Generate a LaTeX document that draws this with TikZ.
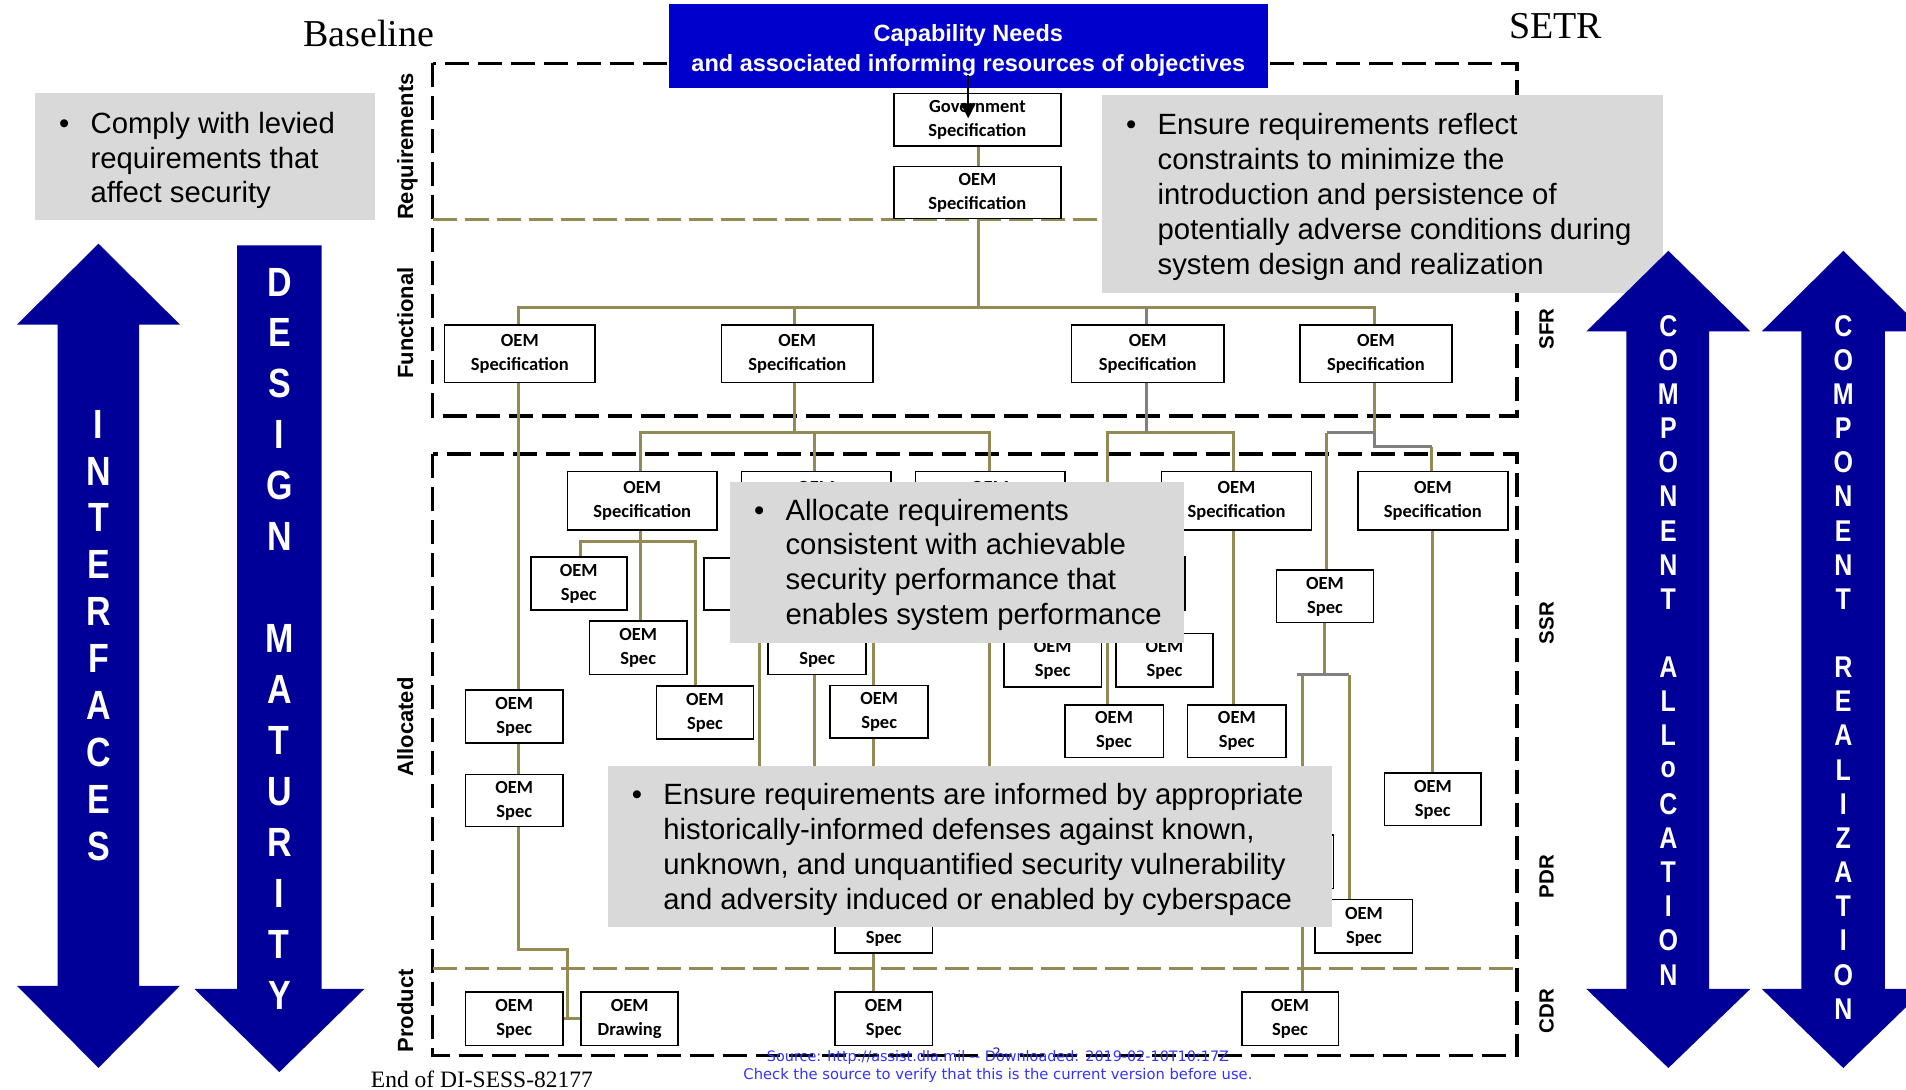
\documentclass[tikz,border=0pt]{standalone}
\usepackage{graphicx}
\usepackage{fontspec}
\setmainfont{Liberation Serif}
\setsansfont{Liberation Sans}
\newfontfamily\specfont{Carlito}
\newfontfamily\notefont{DejaVu Sans}
\usetikzlibrary{fit,arrows.meta}
\definecolor{navy}{RGB}{0,0,153}
\definecolor{capblue}{RGB}{0,0,204}
\definecolor{calloutgray}{RGB}{217,217,217}
\definecolor{olivegold}{RGB}{148,138,84}
\definecolor{linkgray}{RGB}{128,128,128}
\definecolor{noteblue}{RGB}{51,51,255}
\newcommand\bulletrows[1]{\begin{tabular}[t]{@{}p{31.5pt}@{}l@{}}#1\end{tabular}}
\newcommand\twoline[2]{\begin{tabular}{@{}c@{}}#1\\#2\end{tabular}}
\begin{document}
\begin{tikzpicture}[x=1.2156pt, y=-1.2156pt,
  specbox/.style={inner sep=0pt, outer sep=0pt},
  specframe/.style={draw=black, line width=1.6pt, fill=white},
  spectext/.style={inner sep=0pt, font=\specfont\bfseries\fontsize{18.5}{24}\selectfont},
  olink/.style={draw=olivegold, line width=3pt},
  graylink/.style={draw=linkgray, line width=3pt},
  stageframe/.style={draw=black, line width=3.2pt, dash pattern=on 24pt off 9pt},
  stageline/.style={draw=olivegold, line width=3.3pt, dash pattern=on 24pt off 8pt},
  callout/.style={fill=calloutgray, inner sep=0pt, outer sep=0pt},
  callouttext/.style={anchor=base west, inner sep=0pt, font=\sffamily\fontsize{29.3}{34.8}\selectfont},
  bandchar/.style={text=white, inner sep=0pt, font=\sffamily\bfseries\fontsize{34}{34}\selectfont},
  slimchar/.style={text=white, inner sep=0pt, font=\sffamily\bfseries\fontsize{25}{25}\selectfont},
  phaselabel/.style={rotate=90, anchor=base, inner sep=0pt, font=\sffamily\bfseries\fontsize{22}{22}\selectfont},
  reviewlabel/.style={rotate=90, anchor=base, inner sep=0pt, font=\sffamily\bfseries\fontsize{20.5}{20.5}\selectfont}]
\useasboundingbox (0,0) rectangle (1568,896);

% ---------- baseline frames ----------
\draw[stageframe] (356,52) rectangle (1248,342.3);
\draw[stageframe] (356,373.5) rectangle (1248,868);
\draw[stageline] (356,180.4) -- (1248,180.4);
\draw[stageline] (356,797) -- (1248,797);

% ---------- routing lines and junction rows ----------
\coordinate (busF) at (0,253);
\coordinate (busA) at (0,356);
\coordinate (busAlow) at (0,367.5);
\coordinate (busB) at (0,445.6);
\coordinate (busC) at (0,555);
\coordinate (hidden) at (0,700);
\coordinate (xtop) at (804.6,0);
\coordinate (xF1) at (426.4,0);
\coordinate (xF2) at (653.7,0);
\coordinate (xF3) at (943,0);
\coordinate (xF4) at (1130.6,0);
\coordinate (xA1) at (526.5,0);
\coordinate (xA2) at (670,0);
\coordinate (xA3) at (813.7,0);
\coordinate (xA4) at (1015,0);
\coordinate (xA5) at (1178,0);
\coordinate (xA1a) at (477.7,0);
\coordinate (xA1c) at (572,0);
\coordinate (xA2a) at (625,0);
\coordinate (xA2c) at (719,0);
\coordinate (xA3a) at (935,0);
\coordinate (xA3b) at (866,0);
\coordinate (xA3c) at (958,0);
\coordinate (xB) at (911.5,0);
\coordinate (xC) at (1091.5,0);
\coordinate (xCd) at (1071.5,0);
\coordinate (xCl) at (1067,0);
\coordinate (xD) at (1110,0);
\coordinate (lbend) at (467,781.5);

% ---------- box areas ----------
\node[specbox, fit={(735.5,76.8)(872.6,120)}] (gov) {};
\node[specbox, fit={(735.5,137)(872.6,179.6)}] (oemtop) {};
\node[specbox, fit={(365.8,267.4)(489.5,314.8)}] (f1) {};
\node[specbox, fit={(593.5,267.4)(718.3,314.8)}] (f2) {};
\node[specbox, fit={(881.4,267.4)(1007,314.8)}] (f3) {};
\node[specbox, fit={(1069.5,267.4)(1194.3,314.8)}] (f4) {};
\node[specbox, fit={(466.7,388)(590,436)}] (a1) {};
\node[specbox, fit={(610,388)(733,436)}] (a2) {};
\node[specbox, fit={(753,388)(876,436)}] (a3) {};
\node[specbox, fit={(955.5,388)(1079,436)}] (a4) {};
\node[specbox, fit={(1117,388)(1240.5,436)}] (a5) {};
\node[specbox, fit={(436.6,458)(515.6,502)}] (a1a) {};
\node[specbox, fit={(485,511)(565,555)}] (a1b) {};
\node[specbox, fit={(540,564.5)(620,608)}] (a1c) {};
\node[specbox, fit={(579,459)(659,502)}] (a2a) {};
\node[specbox, fit={(632,511)(712.5,555)}] (a2b) {};
\node[specbox, fit={(683,564)(763.5,607)}] (a2c) {};
\node[specbox, fit={(895,458)(975,502)}] (a3a) {};
\node[specbox, fit={(826,521)(906,565)}] (a3b) {};
\node[specbox, fit={(918,521)(998,565)}] (a3c) {};
\node[specbox, fit={(876,580)(957,623)}] (bx) {};
\node[specbox, fit={(977,580)(1058,623)}] (ex) {};
\node[specbox, fit={(1050,469)(1130,512)}] (cx) {};
\node[specbox, fit={(1139,636)(1218.5,679)}] (rx) {};
\node[specbox, fit={(1017,687)(1097,731)}] (xx) {};
\node[specbox, fit={(1082,740)(1162,784)}] (dx) {};
\node[specbox, fit={(383,567.6)(463,611)}] (l1) {};
\node[specbox, fit={(383,637)(463,680)}] (l2) {};
\node[specbox, fit={(687,740)(767,784)}] (mx) {};
\node[specbox, fit={(383,816)(463,860)}] (p1) {};
\node[specbox, fit={(478,816)(558,860)}] (p2) {};
\node[specbox, fit={(687,816)(767,860)}] (p3) {};
\node[specbox, fit={(1021.6,816)(1101,860)}] (p4) {};

% requirements and functional tree
\draw[olink] (xtop |- gov.south) -- (xtop |- oemtop.north);
\draw[olink] (xtop |- oemtop.south) -- (xtop |- busF);
\draw[olink] (xF1 |- f1.north) -- (xF1 |- busF) -- (xF4 |- busF) -- (xF4 |- f4.north);
\draw[olink] (xF2 |- busF) -- (xF2 |- f2.north);
\draw[graylink] (xF3 |- busF) -- (xF3 |- f3.north);

% left branch down to the product drawings
\draw[olink] (xF1 |- f1.south) -- (xF1 |- l1.north);
\draw[olink] (xF1 |- l1.south) -- (xF1 |- l2.north);
\draw[olink] (xF1 |- l2.south) -- (xF1 |- lbend) -- (lbend) -- (lbend |- p1.east);
\draw[olink] (p1.east) -- (p2.west);

% allocated tree under the second functional spec
\draw[olink] (xF2 |- f2.south) -- (xF2 |- busA);
\draw[olink] (xA1 |- a1.north) -- (xA1 |- busA) -- (xA3 |- busA) -- (xA3 |- a3.north);
\draw[olink] (xA2 |- busA) -- (xA2 |- a2.north);
\draw[olink] (xA1 |- a1.south) -- (xA1 |- a1b.north);
\draw[olink] (xA1a |- a1a.north) -- (xA1a |- busB) -- (xA1c |- busB) -- (xA1c |- a1c.north);
\draw[olink] (xA2 |- a2.south) -- (xA2 |- a2b.north);
\draw[olink] (xA2a |- a2a.north) -- (xA2a |- busB) -- (xA2c |- busB) -- (xA2c |- a2c.north);
\draw[olink] (xA2a |- a2a.south) -- (xA2a |- hidden);
\draw[olink] (xA2 |- a2b.south) -- (xA2 |- hidden);
\draw[olink] (xA2c |- a2c.south) -- (xA2c |- mx.north);
\draw[olink] (xA2c |- mx.south) -- (xA2c |- p3.north);
\draw[olink] (xA3 |- a3.south) -- (xA3 |- hidden);
\draw[olink] (xA3 |- busB) -- (xA3c |- busB) -- (xA3c |- a3c.north);
\draw[olink] (xA3a |- busB) -- (xA3a |- a3a.north);
\draw[olink] (xA3b |- busB) -- (xA3b |- a3b.north);

% allocated tree under the third functional spec
\draw[olink] (xB |- bx.north) -- (xB |- busA) -- (xA4 |- busA) -- (xA4 |- a4.north);
\draw[graylink] (xF3 |- f3.south) -- (xF3 |- busA);
\draw[olink] (xA4 |- a4.south) -- (xA4 |- ex.north);

% allocated tree under the fourth functional spec
\draw[olink] (xF4 |- f4.south) -- (xF4 |- busA);
\draw[olink] (xC |- busA) -- (xC |- cx.north);
\draw[olink] (xA5 |- busAlow) -- (xA5 |- a5.north);
\draw[graylink] (xC |- busA) -- (xF4 |- busA) -- (xF4 |- busAlow) -- (xA5 |- busAlow);
\draw[olink] (cx.south) -- (cx.south |- busC);
\draw[olink] (xCd |- busC) -- (xCd |- p4.north);
\draw[olink] (xD |- busC) -- (xD |- dx.north);
\draw[graylink] (xCl |- busC) -- (xD |- busC);
\draw[olink] (a5.south) -- (a5.south |- rx.north);

% boxes drawn over the line ends, with their labels
\foreach \b in {gov,oemtop,f1,f2,f3,f4,a1,a2,a3,a4,a5,a1a,a1b,a1c,a2a,a2b,a2c,a3a,a3b,a3c,bx,ex,cx,rx,xx,dx,l1,l2,mx,p1,p2,p3,p4}
  \draw[specframe] (\b.north west) rectangle (\b.south east);

\node[spectext] (gov-txt) at (gov.center) {\twoline{Government}{Specification}};
\foreach \b in {oemtop,f1,f2,f3,f4,a1,a4,a5}
  \node[spectext] (\b-txt) at (\b.center) {\twoline{OEM}{Specification}};
\foreach \b in {a2,a3}
  \node[spectext] (\b-txt) at (\b.center) {\twoline{OEM}{\phantom{Specification}}};
\foreach \b in {a1a,a1b,a1c,a2c,a3b,a3c,bx,ex,cx,rx,dx,l1,l2,p1,p3,p4}
  \node[spectext] (\b-txt) at (\b.center) {\twoline{OEM}{Spec}};
\foreach \b in {a2b,mx}
  \node[spectext] (\b-txt) at (\b.center) {\twoline{\phantom{OEM}}{Spec}};
\node[spectext] (p2-txt) at (p2.center) {\twoline{OEM}{Drawing}};

% ---------- callouts ----------
\node[callout, fit={(28.8,76.8)(308.5,181)}] (gcomply) {};
\node[callouttext] (gcomplytxt) at (48.5,109.7)
  {\bulletrows{\textbullet & Comply with levied\\ & requirements that\\ & affect security}};

\node[callout, fit={(906.6,78)(1368,240.8)}] (greflect) {};
\node[callouttext] (greflecttxt) at (926.3,111)
  {\bulletrows{\textbullet & Ensure requirements reflect\\ & constraints to minimize the\\ & introduction and persistence of\\ & potentially adverse conditions during\\ & system design and realization}};

\node[callout, fit={(600.5,396.7)(973.7,529)}] (gallocate) {};
\node[callouttext] (gallocatetxt) at (620.2,427.8)
  {\bulletrows{\textbullet & Allocate requirements\\ & consistent with achievable\\ & security performance that\\ & enables system performance}};

\node[callout, fit={(500,630)(1096,763)}] (ginformed) {};
\node[callouttext] (ginformedtxt) at (519.7,662)
  {\bulletrows{\textbullet & Ensure requirements are informed by appropriate\\ & historically-informed defenses against known,\\ & unknown, and unquantified security vulnerability\\ & and adversity induced or enabled by cyberspace}};

% ---------- capability needs ----------
\node[fill=capblue, inner sep=0pt, outer sep=0pt, fit={(550,3.6)(1043,72.6)}] (capneeds) {};
\node[anchor=base, text=white, inner sep=0pt, font=\sffamily\bfseries\fontsize{23.5}{30}\selectfont] (captext) at (796.6,34.3)
  {\begin{tabular}[t]{@{}c@{}}Capability Needs\\and associated informing resources of objectives\end{tabular}};
\coordinate (capsrc) at (796.5,61.7);
\coordinate (govtip) at (796.5,97.3);
\draw[line width=1.6pt, -{Triangle[length=15pt,width=15pt]}] (capsrc) -- (govtip);

% ---------- headings ----------
\node[anchor=base west, inner sep=0pt, font=\rmfamily\fontsize{38}{38}\selectfont] (baselinehead) at (249.5,38.4) {Baseline};
\node[anchor=base west, inner sep=0pt, font=\rmfamily\fontsize{38}{38}\selectfont] (setrhead) at (1241.5,31.5) {SETR};

\node[phaselabel] (lblreq) at (339.8,120.6) {Requirements};
\node[phaselabel] (lblfun) at (339.8,265.8) {Functional};
\node[phaselabel] (lblall) at (339.8,598) {Allocated};
\node[phaselabel] (lblpro) at (339.8,831.6) {Product};
\node[reviewlabel] (lblsfr) at (1278,270.6) {SFR};
\node[reviewlabel] (lblssr) at (1278,512.6) {SSR};
\node[reviewlabel] (lblpdr) at (1278,721) {PDR};
\node[reviewlabel] (lblcdr) at (1278,832) {CDR};

% ---------- side arrows ----------
\fill[navy] (81,200.5) -- (148,267) -- (114.5,267) -- (114.5,811) -- (148,811) -- (81,878.5)
  -- (14,811) -- (47.5,811) -- (47.5,267) -- (14,267) -- cycle;
\fill[navy] (195,201.8) -- (264.6,201.8) -- (264.6,813.6) -- (299.7,813.6) -- (229.8,882)
  -- (160,813.6) -- (195,813.6) -- cycle;
\fill[navy] (1372.5,206.3) -- (1439.9,272.6) -- (1406,272.6) -- (1406,813.6) -- (1439.9,813.6)
  -- (1372.5,878.6) -- (1305.1,813.6) -- (1338,813.6) -- (1338,272.6) -- (1305.1,272.6) -- cycle;
\fill[navy] (1516.4,206.3) -- (1583.4,272.6) -- (1550.7,272.6) -- (1550.7,813.6) -- (1583.4,813.6)
  -- (1516.4,878.6) -- (1449.4,813.6) -- (1482,813.6) -- (1482,272.6) -- (1449.4,272.6) -- cycle;

\foreach \ch [count=\i from 0] in {I,N,T,E,R,F,A,C,E,S}
  \node[bandchar] (ifc\i) at (81,{349+\i*38.55}) {\scalebox{1}[1.2]{\ch}};
\foreach \ch [count=\i from 0] in {D,E,S,I,G,N,{},M,A,T,U,R,I,T,Y}
  \node[bandchar] (dsm\i) at (229.8,{232+\i*41.9}) {\scalebox{1}[1.2]{\ch}};
\foreach \ch [count=\i from 0] in {C,O,M,P,O,N,E,N,T,{},A,L,L,o,C,A,T,I,O,N}
  \node[slimchar] (cal\i) at (1372.5,{268+\i*28.1}) {\scalebox{1}[1.2]{\ch}};
\foreach \ch [count=\i from 0] in {C,O,M,P,O,N,E,N,T,{},R,E,A,L,I,Z,A,T,I,O,N}
  \node[slimchar] (crl\i) at (1516.4,{268+\i*28.1}) {\scalebox{1}[1.2]{\ch}};

% ---------- footer ----------
\node[anchor=base west, inner sep=0pt, font=\rmfamily\fontsize{23.5}{23.5}\selectfont] (endnote) at (305,894.6) {End of DI-SESS-82177};
\node[anchor=base, text=noteblue, inner sep=0pt] (srcnote) at (821,873)
  {\resizebox{462pt}{!}{\notefont Source: http://assist.dla.mil -{}- Downloaded: 2019-02-10T10:17Z}};
\node[anchor=base, text=noteblue, inner sep=0pt] (chknote) at (821,887.7)
  {\resizebox{509pt}{!}{\notefont Check the source to verify that this is the current version before use.}};
\node[text=noteblue!60!black, inner sep=0pt, font=\notefont\fontsize{13}{13}\selectfont] (pagenum) at (820,866) {2};
\end{tikzpicture}
\end{document}
